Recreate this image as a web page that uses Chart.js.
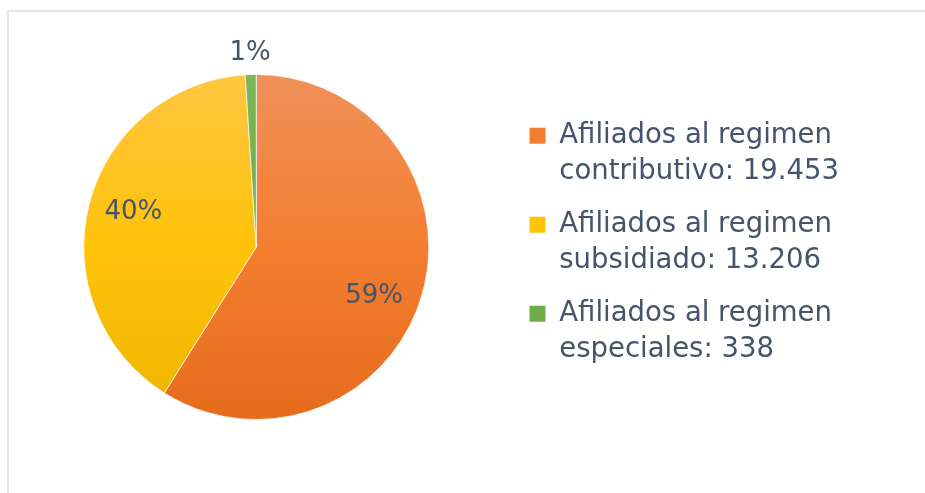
<!DOCTYPE html>
<html>
<head>
<meta charset="utf-8">
<script src="https://cdn.jsdelivr.net/npm/chart.js@4.4.0/dist/chart.umd.min.js"></script>
<style>
  html, body { margin: 0; padding: 0; background: #fff; overflow: hidden; }
  #frame { position: absolute; left: 7px; top: 10px; width: 960px; height: 540px; border: 2px solid #E2E6ED; box-sizing: border-box; }
  #wrap { position: absolute; left: 0; top: 0; width: 925px; height: 493px; }
</style>
</head>
<body>
<div id="frame"></div>
<div id="wrap"><canvas id="myChartPie" width="925" height="493"></canvas></div>
<script>
// datos
var categoryPrefix = 'Afiliados al regimen';
var categories = ['contributivo', 'subsidiado', 'especiales'];
var afiliados = [19453, 13206, 338];

var textColor = '#44546A';
var fontFamily = '"DejaVu Sans", sans-serif';

// gradient stops per slice (top -> bottom)
var sliceColors = [
    ['#F0915A', '#F37E30', '#E66C1C'],
    ['#FFC641', '#FFC30A', '#EDB400'],
    ['#7DB55A', '#70AD47', '#5E9C3A']
];
// small nudge of the label angle (degrees), like excel best fit
var labelAngleShift = [6.5, 1.5, 0];

function formatNumber(n) {
    return String(n).replace(/\B(?=(\d{3})+(?!\d))/g, '.');
}

function sliceFill(context) {
    var chart = context.chart;
    var area = chart.chartArea;
    var stops = sliceColors[context.dataIndex];
    if (!area) {
        return stops[1];
    }
    var g = chart.ctx.createLinearGradient(0, area.top, 0, area.bottom);
    g.addColorStop(0, stops[0]);
    g.addColorStop(0.5, stops[1]);
    g.addColorStop(1, stops[2]);
    return g;
}

// percentages drawn on / next to the slices
var pieLabelsPlugin = {
    id: 'pieLabels',
    afterDatasetsDraw: function (chart) {
        var ctx = chart.ctx;
        var meta = chart.getDatasetMeta(0);
        var total = afiliados.reduce(function (a, b) { return a + b; }, 0);
        ctx.save();
        ctx.font = '26px ' + fontFamily;
        ctx.fillStyle = textColor;
        ctx.textAlign = 'center';
        ctx.textBaseline = 'middle';
        meta.data.forEach(function (arc, i) {
            var p = arc.getProps(['x', 'y', 'startAngle', 'endAngle', 'outerRadius'], true);
            var mid = (p.startAngle + p.endAngle) / 2 + labelAngleShift[i] * Math.PI / 180;
            var share = afiliados[i] / total;
            var r = share < 0.05 ? p.outerRadius + 21 : p.outerRadius * 0.74;
            ctx.fillText(Math.round(share * 100) + '%', p.x + Math.cos(mid) * r, p.y + Math.sin(mid) * r);
        });
        ctx.restore();
    }
};

var ctx = document.getElementById('myChartPie');
var myChartPie = new Chart(ctx, {
    type: 'pie',
    data: {
        labels: categories.map(function (c) { return categoryPrefix + ' ' + c; }),
        datasets: [{
            data: afiliados,
            backgroundColor: sliceFill,
            borderColor: 'rgba(255,255,255,0.7)',
            borderWidth: 1
        }]
    },
    options: {
        responsive: false,
        animation: false,
        layout: {
            padding: { left: 0, top: 74, bottom: 73, right: 76 }
        },
        plugins: {
            tooltip: { enabled: false },
            legend: {
                position: 'right',
                align: 'center',
                labels: {
                    boxWidth: 16,
                    boxHeight: 16,
                    padding: 17,
                    color: textColor,
                    font: { family: fontFamily, size: 27.5, lineHeight: 1.31 },
                    generateLabels: function (chart) {
                        return categories.map(function (c, i) {
                            return {
                                text: [categoryPrefix, c + ': ' + formatNumber(afiliados[i])],
                                fillStyle: sliceColors[i][1],
                                strokeStyle: sliceColors[i][1],
                                fontColor: textColor,
                                lineWidth: 0,
                                hidden: false,
                                index: i
                            };
                        });
                    }
                }
            }
        }
    },
    plugins: [pieLabelsPlugin]
});
</script>
</body>
</html>
